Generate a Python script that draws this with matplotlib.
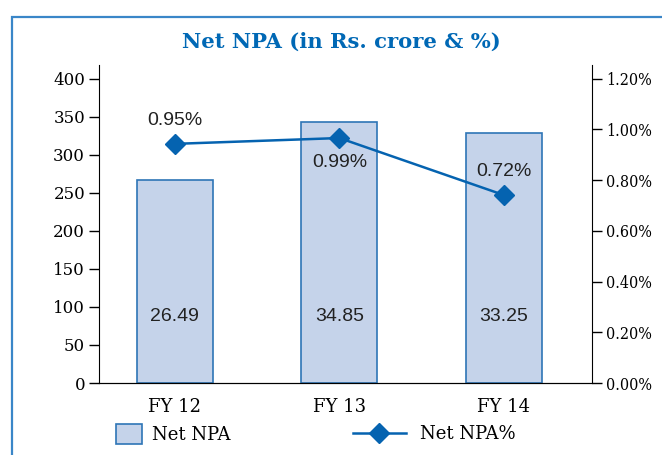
import matplotlib.pyplot as plt
from matplotlib.patches import Rectangle, Patch
from matplotlib.lines import Line2D

# chart data
years = ['FY 12', 'FY 13', 'FY 14']
net_npa = [267, 343, 329]              # bar heights on left axis
net_npa_labels = ['26.49', '34.85', '33.25']
npa_pct = [0.943, 0.966, 0.741]       # line values on right axis (%)
npa_pct_labels = ['0.95%', '0.99%', '0.72%']
left_ticks = [0, 50, 100, 150, 200, 250, 300, 350, 400]
right_ticks = [0.0, 0.2, 0.4, 0.6, 0.8, 1.0, 1.2]

BLUE = '#0563B0'
BAR_FILL = '#C5D3EA'
BAR_EDGE = '#2E75B6'
FRAME = '#3A86C8'

fig = plt.figure(figsize=(6.62, 4.55), dpi=100)

# outer frame (open at right/bottom, cut by image edge)
fig.patches.append(Rectangle((12 / 662, -0.1), 1.2, (455 - 17) / 455 + 0.1,
                             transform=fig.transFigure, fill=False,
                             edgecolor=FRAME, lw=1.6))

fig.text(341 / 662, 1 - 42 / 455, 'Net NPA (in Rs. crore & %)', ha='center',
         va='center', color='#0068B5', fontsize=15.2, fontweight='bold',
         family='DejaVu Serif')

ax = fig.add_axes([99 / 662, 1 - 383 / 455, (592 - 99) / 662, (383 - 65) / 455])
x = list(range(len(years)))
ax.bar(x, net_npa, width=0.462, color=BAR_FILL, edgecolor=BAR_EDGE, lw=1.2)
for i, lab in enumerate(net_npa_labels):
    ax.text(i, 88, lab, ha='center', va='center', fontsize=14,
            family='Liberation Sans', color='#222222')

ax.set_xlim(-0.461, 2.535)
ax.set_ylim(0, 418)
ax.set_yticks(left_ticks)
ax.set_xticks(x)
ax.set_xticklabels(years, family='DejaVu Serif', fontsize=13)
for t in ax.get_yticklabels():
    t.set_family('DejaVu Serif')
    t.set_fontsize(12)
ax.tick_params(axis='x', length=0, pad=11)
ax.tick_params(axis='y', length=7, width=1, pad=3)
ax.spines['top'].set_visible(False)
ax.spines['right'].set_visible(False)

ax2 = ax.twinx()
ax2.plot(x, npa_pct, color=BLUE, lw=1.8, marker='D', ms=10)
offsets = [(0, 23), (0, -24), (0, 24)]
for i, (v, lab) in enumerate(zip(npa_pct, npa_pct_labels)):
    ax2.annotate(lab, (i, v), xytext=offsets[i], textcoords='offset pixels',
                 ha='center', va='center', fontsize=14,
                 family='Liberation Sans', color='#222222')
ax2.set_ylim(0, 1.2 * 418 / 400)
ax2.set_yticks(right_ticks)
ax2.set_yticklabels(['%.2f%%' % v for v in right_ticks],
                    family='DejaVu Serif', fontstretch='condensed',
                    fontsize=11.5)
ax2.tick_params(axis='y', length=7, width=1, pad=3)
ax2.spines['top'].set_visible(False)
ax2.spines['left'].set_visible(False)

# legend, two separate entries spaced like the reference
leg1 = fig.legend([Patch(facecolor=BAR_FILL, edgecolor=BAR_EDGE, lw=1.2)],
                  ['Net NPA'], loc='center left',
                  bbox_to_anchor=(100 / 662, 1 - 434 / 455), frameon=False,
                  handlelength=1.4, handleheight=1.4, handletextpad=0.6,
                  prop={'family': 'DejaVu Serif', 'size': 13})
leg2 = fig.legend([Line2D([], [], color=BLUE, lw=1.8, marker='D', ms=10)],
                  ['Net NPA%'], loc='center left',
                  bbox_to_anchor=(337 / 662, 1 - 434 / 455), frameon=False,
                  handlelength=2.9, handletextpad=0.8,
                  prop={'family': 'DejaVu Serif', 'size': 13})

fig.savefig('out.png', dpi=100)
